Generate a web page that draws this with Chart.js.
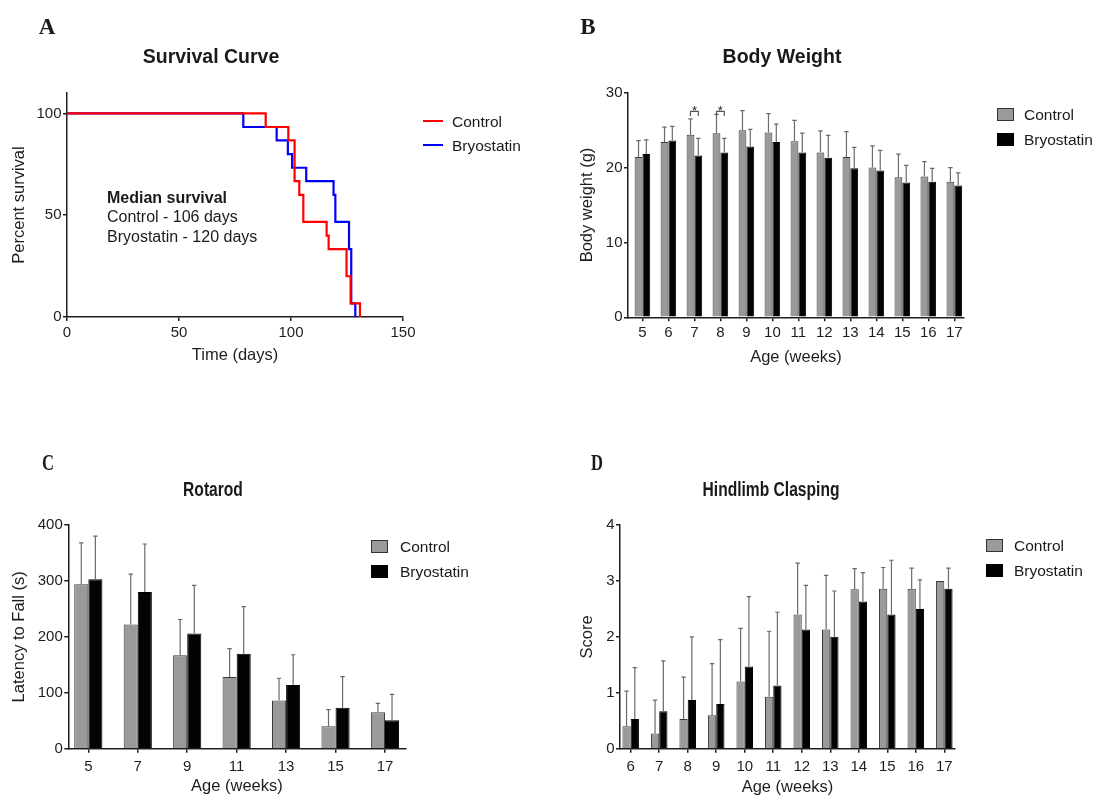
<!DOCTYPE html>
<html>
<head>
<meta charset="utf-8">
<script src="https://cdn.jsdelivr.net/npm/chart.js@4.4.1/dist/chart.umd.min.js"></script>
<style>
html,body{margin:0;padding:0;background:#fff;}
#wrap{position:relative;width:1097px;height:797px;overflow:hidden;font-family:'Liberation Sans',Arial,Helvetica,sans-serif;color:#1a1a1a;background:#fff;}
canvas{position:absolute;left:0;top:0;}
.t{position:absolute;white-space:nowrap;transform:translate(-50%,-50%);line-height:1;}
.ttl{font-weight:bold;font-size:19.5px;}
.narrow{transform:translate(-50%,-50%) scaleX(0.8);}
.letter{font-family:'Liberation Serif','Times New Roman',serif;font-weight:bold;font-size:23px;}
.nl{transform:translate(-50%,-50%) scaleX(0.72);}
.ann{position:absolute;white-space:nowrap;font-size:16px;line-height:1;transform:translateY(-50%);}
.lt{position:absolute;white-space:nowrap;font-size:15.5px;line-height:1;transform:translateY(-50%);}
.ln{position:absolute;height:2px;width:20px;}
.bx{position:absolute;width:17px;height:13px;box-sizing:border-box;border:1px solid #333;}
</style>
</head>
<body>
<div id="wrap">
  <canvas id="cA" width="1097" height="797"></canvas>
  <canvas id="cB" width="1097" height="797"></canvas>
  <canvas id="cC" width="1097" height="797"></canvas>
  <canvas id="cD" width="1097" height="797"></canvas>

  <div class="t letter" style="left:47px;top:26px;">A</div>
  <div class="t letter" style="left:588px;top:26px;">B</div>
  <div class="t letter nl" style="left:48px;top:462px;">C</div>
  <div class="t letter nl" style="left:597px;top:462px;">D</div>

  <div class="t ttl" style="left:211px;top:57px;">Survival Curve</div>
  <div class="t ttl" style="left:782px;top:57px;">Body Weight</div>
  <div class="t ttl narrow" style="left:213px;top:490px;">Rotarod</div>
  <div class="t ttl narrow" style="left:771px;top:490px;">Hindlimb Clasping</div>

  <div class="ann" style="left:107px;top:198px;font-weight:bold;">Median survival</div>
  <div class="ann" style="left:107px;top:217px;">Control - 106 days</div>
  <div class="ann" style="left:107px;top:237px;">Bryostatin - 120 days</div>

  <!-- legend A -->
  <div class="ln" style="left:423px;top:120px;background:#ff0000;"></div>
  <div class="lt" style="left:452px;top:121.5px;">Control</div>
  <div class="ln" style="left:423px;top:144px;background:#0000ff;"></div>
  <div class="lt" style="left:452px;top:145.5px;">Bryostatin</div>

  <!-- legend B -->
  <div class="bx" style="left:997px;top:108px;background:#9a9a9a;"></div>
  <div class="lt" style="left:1024px;top:115px;">Control</div>
  <div class="bx" style="left:997px;top:133px;background:#000;border-color:#000;"></div>
  <div class="lt" style="left:1024px;top:140px;">Bryostatin</div>

  <!-- legend C -->
  <div class="bx" style="left:371px;top:540px;background:#9a9a9a;"></div>
  <div class="lt" style="left:400px;top:547px;">Control</div>
  <div class="bx" style="left:371px;top:565px;background:#000;border-color:#000;"></div>
  <div class="lt" style="left:400px;top:572px;">Bryostatin</div>

  <!-- legend D -->
  <div class="bx" style="left:986px;top:539px;background:#9a9a9a;"></div>
  <div class="lt" style="left:1014px;top:546px;">Control</div>
  <div class="bx" style="left:986px;top:564px;background:#000;border-color:#000;"></div>
  <div class="lt" style="left:1014px;top:571px;">Bryostatin</div>
</div>

<script>
// ---------------- DATA ----------------
// A: Survival (Kaplan-Meier steps)
const survCtrlDays = [0, 88.7, 98.8, 101.6, 103.7, 105.5, 115.9, 116.8, 124.8, 126.6, 130.8];
const survCtrlPct  = [100, 93.3, 86.7, 66.7, 60, 46.7, 40, 33.3, 20, 6.7, 0];
const survBryoDays = [0, 78.7, 93.6, 98.6, 100.5, 106.8, 119.0, 119.8, 125.9, 126.9, 128.7];
const survBryoPct  = [100, 93.3, 86.7, 80, 73.3, 66.7, 60, 46.7, 33.3, 6.7, 0];
const survXTicks = [0, 50, 100, 150];
const survYTicks = [0, 50, 100];

// B: Body weight
const bwWeeks   = [5, 6, 7, 8, 9, 10, 11, 12, 13, 14, 15, 16, 17];
const bwCtrl    = [21.4, 23.4, 24.4, 24.6, 25.0, 24.7, 23.5, 22.0, 21.4, 20.0, 18.7, 18.8, 18.1];
const bwCtrlErr = [2.2, 2.0, 2.1, 2.5, 2.6, 2.5, 2.8, 2.9, 3.4, 2.9, 3.1, 2.0, 1.9];
const bwBryo    = [21.8, 23.6, 21.6, 22.0, 22.8, 23.4, 22.0, 21.3, 19.9, 19.6, 18.0, 18.1, 17.6];
const bwBryoErr = [1.9, 1.9, 2.3, 1.9, 2.3, 2.4, 2.6, 3.0, 2.8, 2.7, 2.3, 1.8, 1.7];
const bwYTicks  = [0, 10, 20, 30];
const bwSigWeeks = [7, 8];
const bwSigLevel = 27.5;

// C: Rotarod
const rrWeeks   = [5, 7, 9, 11, 13, 15, 17];
const rrCtrl    = [294, 222, 167, 128, 86, 40, 65];
const rrCtrlErr = [74, 90, 64, 51, 40, 30, 16];
const rrBryo    = [303, 280, 206, 170, 114, 73, 51];
const rrBryoErr = [77, 86, 86, 84, 54, 56, 46];
const rrYTicks  = [0, 100, 200, 300, 400];

// D: Hindlimb clasping
const hcWeeks   = [6, 7, 8, 9, 10, 11, 12, 13, 14, 15, 16, 17];
const hcCtrl    = [0.40, 0.27, 0.53, 0.60, 1.20, 0.93, 2.40, 2.13, 2.85, 2.86, 2.86, 3.00];
const hcCtrlErr = [0.63, 0.60, 0.75, 0.92, 0.95, 1.17, 0.92, 0.97, 0.37, 0.38, 0.37, 0];
const hcBryo    = [0.53, 0.67, 0.87, 0.80, 1.47, 1.13, 2.13, 2.00, 2.63, 2.40, 2.50, 2.86];
const hcBryoErr = [0.92, 0.90, 1.13, 1.15, 1.25, 1.31, 0.79, 0.82, 0.52, 0.97, 0.52, 0.37];
const hcYTicks  = [0, 1, 2, 3, 4];

// ---------------- STYLE / SETUP ----------------
const W = 1097, H = 797;
const FONT = "'Liberation Sans', Arial, Helvetica, sans-serif";
const INK = '#1e1e1e';
Chart.defaults.font.family = FONT;
Chart.defaults.color = INK;
Chart.defaults.animation = false;
Chart.defaults.devicePixelRatio = 1;

const GRAY = '#9a9a9a';
const GRAY_BORDER = '#3a3a3a';

function pts(xs, ys) { return xs.map((x, i) => ({x: x, y: ys[i]})); }

// frame: L,R = chart area x-range; T,B = chart area y-range; sL = left of y-title box; xH = x-scale height
function axes(f, xCfg, yCfg) {
  const base = (extra) => Object.assign({
    border: {display: true, color: INK, width: 1.5},
    grid: {display: true, drawOnChartArea: false, drawTicks: true, tickLength: 4, color: INK, lineWidth: 1.5, offset: false},
  }, extra);
  return {
    x: base({
      type: 'linear', offset: false, min: xCfg.min, max: xCfg.max,
      afterBuildTicks: s => { s.ticks = xCfg.ticks.map(v => ({value: v})); },
      afterFit: s => { s.height = f.xH; },
      ticks: {font: {size: 15}, color: INK, padding: xCfg.pad, autoSkip: false, maxRotation: 0},
      title: {display: true, text: xCfg.title, font: {size: 16.5}, color: INK, padding: {top: 0, bottom: 0}}
    }),
    y: base({
      type: 'linear', min: yCfg.min, max: yCfg.max,
      afterBuildTicks: s => { s.ticks = yCfg.ticks.map(v => ({value: v})); },
      afterFit: s => { s.width = f.L - f.sL; },
      ticks: {font: {size: 15}, color: INK, padding: 1.5},
      title: {display: true, text: yCfg.title, font: {size: 16.5}, color: INK, padding: {top: 0, bottom: 0}}
    })
  };
}
function layoutFor(f) {
  return {padding: {left: f.sL, top: f.T, right: W - f.R, bottom: H - f.B - f.xH}};
}

const errorBars = {
  id: 'errorBars',
  afterDatasetsDraw(chart) {
    const ctx = chart.ctx, ys = chart.scales.y;
    chart.data.datasets.forEach((ds, i) => {
      if (!ds.errors) return;
      const meta = chart.getDatasetMeta(i);
      meta.data.forEach((bar, j) => {
        const e = ds.errors[j];
        if (!e) return;
        const top = ys.getPixelForValue(ds.data[j].y + e);
        ctx.save();
        ctx.strokeStyle = '#6a6a6a';
        ctx.lineWidth = 1.2;
        ctx.beginPath();
        ctx.moveTo(bar.x, bar.y);
        ctx.lineTo(bar.x, top);
        ctx.moveTo(bar.x - 2.2, top);
        ctx.lineTo(bar.x + 2.2, top);
        ctx.stroke();
        ctx.restore();
      });
    });
  }
};

function barDatasets(weeks, c, ce, b, be, cat) {
  return [
    {label: 'Control', data: pts(weeks, c), errors: ce, backgroundColor: GRAY, borderColor: GRAY_BORDER,
     borderWidth: 1, categoryPercentage: cat, barPercentage: 1, borderSkipped: 'bottom'},
    {label: 'Bryostatin', data: pts(weeks, b), errors: be, backgroundColor: '#030303', borderColor: '#000',
     borderWidth: 1, categoryPercentage: cat, barPercentage: 1, borderSkipped: 'bottom'}
  ];
}
const commonPlugins = {legend: {display: false}, tooltip: {enabled: false}, title: {display: false}};

// ---------------- A: Survival ----------------
const fA = {L: 67, R: 403, T: 93, B: 317, sL: 10, xH: 48};
new Chart(document.getElementById('cA'), {
  type: 'line',
  data: {
    datasets: [
      {label: 'Control', data: pts(survCtrlDays, survCtrlPct), borderColor: '#ff0000', borderWidth: 2.2,
       stepped: true, pointRadius: 0, fill: false},
      {label: 'Bryostatin', data: pts(survBryoDays, survBryoPct), borderColor: '#0000ff', borderWidth: 2.2,
       stepped: true, pointRadius: 0, fill: false}
    ]
  },
  options: {
    responsive: false, maintainAspectRatio: false, animation: false, events: [],
    layout: layoutFor(fA),
    plugins: commonPlugins,
    scales: axes(fA,
      {min: 0, max: 150, ticks: survXTicks, title: 'Time (days)', pad: 3},
      {min: 0, max: 110, ticks: survYTicks, title: 'Percent survival'})
  }
});

// ---------------- B: Body weight ----------------
const fB = {L: 628, R: 964, T: 92.7, B: 317.3, sL: 578, xH: 50};
const sigPlugin = {
  id: 'sig',
  afterDatasetsDraw(chart) {
    const ctx = chart.ctx, ys = chart.scales.y;
    bwSigWeeks.forEach(w => {
      const j = bwWeeks.indexOf(w);
      const a = chart.getDatasetMeta(0).data[j], b = chart.getDatasetMeta(1).data[j];
      const yTop = ys.getPixelForValue(bwSigLevel);
      const yLeg = ys.getPixelForValue(bwSigLevel - 0.6);
      ctx.save();
      ctx.strokeStyle = '#555';
      ctx.lineWidth = 1.2;
      ctx.beginPath();
      ctx.moveTo(a.x, yLeg); ctx.lineTo(a.x, yTop); ctx.lineTo(b.x, yTop); ctx.lineTo(b.x, yLeg);
      ctx.stroke();
      ctx.fillStyle = INK;
      ctx.font = '13px ' + FONT;
      ctx.textAlign = 'center';
      ctx.textBaseline = 'alphabetic';
      ctx.fillText('*', (a.x + b.x) / 2, yTop + 3.5);
      ctx.restore();
    });
  }
};
new Chart(document.getElementById('cB'), {
  type: 'bar',
  data: {datasets: barDatasets(bwWeeks, bwCtrl, bwCtrlErr, bwBryo, bwBryoErr, 0.6)},
  options: {
    responsive: false, maintainAspectRatio: false, animation: false, events: [],
    layout: layoutFor(fB),
    plugins: commonPlugins,
    scales: axes(fB,
      {min: 4.445, max: 17.373, ticks: bwWeeks, title: 'Age (weeks)', pad: 3},
      {min: 0, max: 30, ticks: bwYTicks, title: 'Body weight (g)'})
  },
  plugins: [errorBars, sigPlugin]
});

// ---------------- C: Rotarod ----------------
const fC = {L: 68.3, R: 405.5, T: 525, B: 748.7, sL: 10, xH: 48};
new Chart(document.getElementById('cC'), {
  type: 'bar',
  data: {datasets: barDatasets(rrWeeks, rrCtrl, rrCtrlErr, rrBryo, rrBryoErr, 0.57)},
  options: {
    responsive: false, maintainAspectRatio: false, animation: false, events: [],
    layout: layoutFor(fC),
    plugins: commonPlugins,
    scales: axes(fC,
      {min: 4.19, max: 17.83, ticks: rrWeeks, title: 'Age (weeks)', pad: 5},
      {min: 0, max: 400, ticks: rrYTicks, title: 'Latency to Fall (s)'})
  },
  plugins: [errorBars]
});

// ---------------- D: Hindlimb clasping ----------------
const fD = {L: 620, R: 955, T: 525, B: 748.7, sL: 578, xH: 49};
new Chart(document.getElementById('cD'), {
  type: 'bar',
  data: {datasets: barDatasets(hcWeeks, hcCtrl, hcCtrlErr, hcBryo, hcBryoErr, 0.58)},
  options: {
    responsive: false, maintainAspectRatio: false, animation: false, events: [],
    layout: layoutFor(fD),
    plugins: commonPlugins,
    scales: axes(fD,
      {min: 5.625, max: 17.375, ticks: hcWeeks, title: 'Age (weeks)', pad: 5},
      {min: 0, max: 4, ticks: hcYTicks, title: 'Score'})
  },
  plugins: [errorBars]
});
</script>
</body>
</html>
